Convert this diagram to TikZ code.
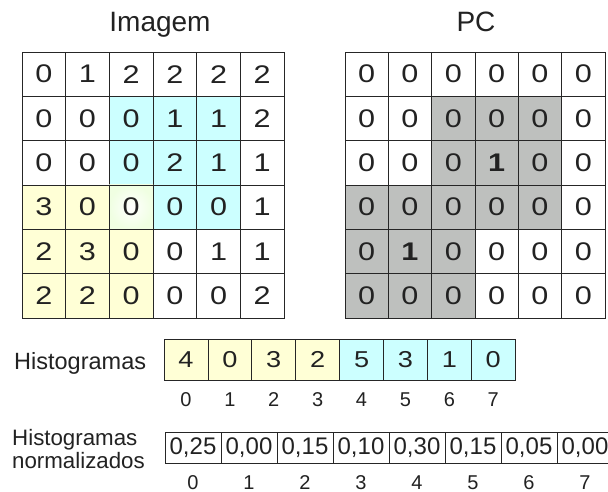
\documentclass[tikz,border=0pt]{standalone}
\usepackage{fontspec}
\setmainfont{Liberation Sans}
\newfontfamily\widefont[FakeStretch=1.2]{Liberation Sans}
\newfontfamily\histfont[FakeStretch=1.18]{Liberation Sans}
\usetikzlibrary{calc}
\definecolor{yelfill}{RGB}{255,255,214}
\definecolor{cyanfill}{RGB}{204,255,255}
\definecolor{grayfill}{RGB}{190,192,190}
\definecolor{ink}{RGB}{34,34,34}
\begin{document}
\begin{tikzpicture}[x=1pt,y=-1pt,
  cell/.style={draw=black!85, line width=0.8pt, inner sep=0pt, text=ink,
    font=\widefont\fontsize{25.5}{25.5}\selectfont},
  gcell/.style={cell, minimum width=43.6pt, minimum height=44.3pt},
  pcell/.style={cell, minimum width=43.3pt, minimum height=44.3pt},
  hcell/.style={cell, minimum width=43.9pt, minimum height=41pt, font=\histfont\fontsize{23}{23}\selectfont},
  ncell/.style={cell, minimum width=56pt, minimum height=31pt, font=\rmfamily\fontsize{24}{24}\selectfont},
  title/.style={anchor=base, inner sep=0pt, text=ink, font=\fontsize{28}{28}\selectfont},
  rowlabel/.style={anchor=base west, inner sep=0pt, text=ink},
  idx/.style={anchor=base, inner sep=0pt, text=ink, font=\fontsize{20}{20}\selectfont}]
\useasboundingbox (0,0) rectangle (608,492);
\fill[white] (0,0) rectangle (608,492);

% titles
\node[title] (tImg) at (160,32) {Imagem};
\node[title] (tPC) at (476,32) {PC};

% image grid
\def\gx{22} \def\gy{52} \def\gw{43.67} \def\gh{44.33}
\foreach \row [count=\r from 0] in {{0,1,2,2,2,2},{0,0,0,1,1,2},{0,0,0,2,1,1},{3,0,0,0,0,1},{2,3,0,0,1,1},{2,2,0,0,0,2}}{
  \foreach \v [count=\c from 0] in \row {
    \pgfmathsetmacro{\fillname}{(\r>=1 && \r<=3 && \c>=2 && \c<=4) ? "cyanfill" : ((\r>=3 && \c<=2) ? "yelfill" : "white")}
    \ifnum\r=3 \ifnum\c=2 \def\fillname{none}\fi\fi
    \coordinate (gc-\r-\c) at ({\gx+(\c+0.5)*\gw},{\gy+(\r+0.5)*\gh});
    \ifnum\r=3 \ifnum\c=2
      \shade[inner color=white, outer color=yelfill!70!cyanfill]
        ($(gc-\r-\c)+(-\gw/2,-\gh/2)$) rectangle ($(gc-\r-\c)+(\gw/2,\gh/2)$);
    \fi\fi
    \node[gcell, fill=\fillname] (img-\r-\c) at (gc-\r-\c) {\v};
  }
}

% PC grid
\def\px{345} \def\pw{43.33}
\foreach \row [count=\r from 0] in {{0,0,0,0,0,0},{0,0,0,0,0,0},{0,0,0,1,0,0},{0,0,0,0,0,0},{0,1,0,0,0,0},{0,0,0,0,0,0}}{
  \foreach \v [count=\c from 0] in \row {
    \pgfmathsetmacro{\fillname}{((\r>=1 && \r<=3 && \c>=2 && \c<=4) || (\r>=3 && \c<=2)) ? "grayfill" : "white"}
    \ifnum\v=1
      \node[pcell, fill=\fillname, font=\widefont\fontsize{25.5}{25.5}\selectfont\bfseries] (pc-\r-\c) at ({\px+(\c+0.5)*\pw},{\gy+(\r+0.5)*\gh}) {\v};
    \else
      \node[pcell, fill=\fillname] (pc-\r-\c) at ({\px+(\c+0.5)*\pw},{\gy+(\r+0.5)*\gh}) {\v};
    \fi
  }
}

% histogram
\node[rowlabel, font=\fontsize{23.5}{24}\selectfont] (hLabel) at (14,369) {Histogramas};
\foreach \v [count=\i from 0] in {4,0,3,2,5,3,1,0}{
  \pgfmathsetmacro{\fillname}{\i<4 ? "yelfill" : "cyanfill"}
  \node[hcell, fill=\fillname] (h-\i) at ({164+(\i+0.5)*43.9},359.5) {\v};
  \node[idx] (hi-\i) at ({164+(\i+0.5)*43.9},406) {\i};
}

% normalized histogram
\node[rowlabel, font=\fontsize{22.3}{23}\selectfont] (nLabelA) at (12,445) {Histogramas};
\node[rowlabel, font=\fontsize{22.3}{23}\selectfont] (nLabelB) at (12,468) {normalizados};
\foreach \v [count=\i from 0] in {{0,25},{0,00},{0,15},{0,10},{0,30},{0,15},{0,05},{0,00}}{
  \node[ncell, fill=white] (n-\i) at ({165+(\i+0.5)*56},447.5) {\v};
  \node[idx] (ni-\i) at ({165+(\i+0.5)*56},489) {\i};
}
\end{tikzpicture}
\end{document}
